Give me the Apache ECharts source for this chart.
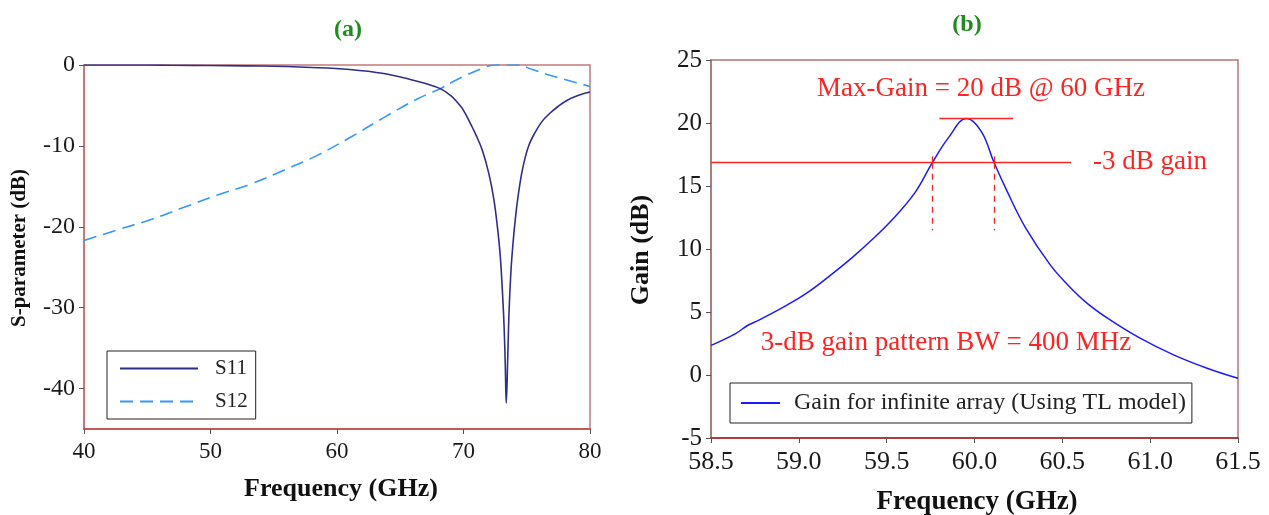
<!DOCTYPE html>
<html>
<head>
<meta charset="utf-8">
<script src="https://cdn.jsdelivr.net/npm/echarts@6/dist/echarts.min.js"></script>
<style>
html,body{margin:0;padding:0;background:#fff;}
#main{width:1269px;height:515px;}
</style>
</head>
<body>
<div id="main"></div>
<script>
// ---------- Data: panel (a) ----------
const s11Freq = [40,45,47,50,54,58,61,63.7,65.8,67,68.2,69,69.5,70,70.6,71,71.5,72.0,72.4,72.7,72.9,73.07,73.2,73.3,73.38,73.5,73.6,73.75,73.9,74.1,74.3,74.6,74.9,75.2,75.6,76.2,76.8,77.5,78.2,79,80];
const s11Val  = [0,0,-0.03,-0.06,-0.12,-0.3,-0.55,-1.05,-1.8,-2.3,-2.95,-3.8,-4.6,-5.6,-7.4,-8.7,-10.6,-13.4,-16.6,-20.3,-23.5,-27.8,-32,-37,-41.8,-36,-30.5,-25.5,-22.3,-19.0,-16.4,-13.4,-11.3,-9.8,-8.5,-7.0,-6.0,-5.1,-4.35,-3.8,-3.35];
const s12Freq = [40,42.6,45.3,47.9,50.5,53.2,55.8,58.4,61.1,63.7,66.35,68.2,69,70.3,71.6,72.4,73.3,74.25,75.5,76.9,78.5,80];
const s12Val  = [-21.7,-20.4,-19.1,-17.6,-16.1,-14.7,-13.0,-11.2,-8.9,-6.5,-4.2,-2.9,-2.2,-1.2,-0.35,0,0,0,-0.6,-1.3,-2.0,-2.65];
const xTicksA = [40,50,60,70,80];
const yTicksA = [-40,-30,-20,-10,0];

// ---------- Data: panel (b) ----------
const gainFreq = [58.5,58.64,58.71,58.77,58.93,59.04,59.19,59.305,59.41,59.53,59.66,59.76,59.85,59.955,60.04,60.11,60.19,60.29,60.43,60.53,60.64,60.77,60.94,61.13,61.32,61.5];
const gainVal  = [2.35,3.29,3.95,4.34,5.53,6.45,8.03,9.34,10.65,12.3,14.45,16.85,18.8,20.35,19.3,16.9,14.45,11.7,8.76,7.17,5.71,4.39,2.94,1.62,0.56,-0.26];
const xTicksB = [58.5,59.0,59.5,60.0,60.5,61.0,61.5];
const yTicksB = [-5,0,5,10,15,20,25];
const peakLine = [59.8, 60.22, 20.35];       // from, to, level
const halfPowerLine = [58.5, 60.55, 16.85];  // from, to, level
const bwEdges = [59.76, 60.112];
const bwRange = [11.48, 16.85, 17.35];       // dashed bottom, line level, tick top

const seriesNames = ['S11','S12','Gain for infinite array (Using TL model)'];
const labels = {
  a: '(a)', b: '(b)',
  xA: 'Frequency (GHz)', yA: 'S-parameter (dB)',
  xB: 'Frequency (GHz)', yB: 'Gain (dB)',
  maxGain: 'Max-Gain = 20 dB @ 60 GHz',
  minus3: '-3 dB gain',
  bw: '3-dB gain pattern BW = 400 MHz'
};

const pairs = (xs, ys) => xs.map((x, i) => [x, ys[i]]);
const SERIF = '"Liberation Serif","Times New Roman",serif';
const RED = '#ff2424';
const GREEN = '#1f8c1f';

const chart = echarts.init(document.getElementById('main'), null, {renderer: 'canvas'});

const mlData = [
  [{coord:[peakLine[0], peakLine[2]]}, {coord:[peakLine[1], peakLine[2]]}],
  [{coord:[halfPowerLine[0], halfPowerLine[2]]}, {coord:[halfPowerLine[1], halfPowerLine[2]]}]
];
bwEdges.forEach(f => {
  mlData.push([{coord:[f, bwRange[2]]}, {coord:[f, bwRange[1]]}]);
  mlData.push([{coord:[f, bwRange[1]], lineStyle:{type:[6,5]}}, {coord:[f, bwRange[0]]}]);
});

const axisLabelStyle = (size) => ({fontFamily: SERIF, fontSize: size, color: '#1a1a1a'});

chart.setOption({
  animation: false,
  backgroundColor: '#fff',
  grid: [
    {left: 84, right: 679, top: 65, bottom: 86, show: true, borderColor: '#c47a7a', borderWidth: 1.5},
    {left: 711, right: 31, top: 60, bottom: 77, show: true, borderColor: '#b87676', borderWidth: 1.5}
  ],
  xAxis: [
    {type: 'value', gridIndex: 0, min: 40, max: 80, interval: 10,
     axisLine: {show: true, onZero: false, lineStyle: {color: '#c04444', width: 1.5}},
     axisTick: {show: true, inside: false, length: 5, customValues: xTicksA, lineStyle: {color: '#555'}},
     axisLabel: Object.assign({margin: 11, customValues: xTicksA}, axisLabelStyle(23)),
     splitLine: {show: false}},
    {type: 'value', gridIndex: 1, min: 58.5, max: 61.5, interval: 0.5,
     axisLine: {show: true, onZero: false, lineStyle: {color: '#a82020', width: 1.5}},
     axisTick: {show: true, inside: false, length: 5, customValues: xTicksB, lineStyle: {color: '#555'}},
     axisLabel: Object.assign({margin: 11, customValues: xTicksB, formatter: v => Number(v).toFixed(1)}, axisLabelStyle(26)),
     splitLine: {show: false}}
  ],
  yAxis: [
    {type: 'value', gridIndex: 0, min: -45, max: 0,
     axisLine: {show: true, onZero: false, lineStyle: {color: '#c46a6a', width: 1.5}},
     axisTick: {show: true, inside: false, length: 5, customValues: yTicksA, lineStyle: {color: '#555'}},
     axisLabel: Object.assign({margin: 9, customValues: yTicksA}, axisLabelStyle(24)),
     splitLine: {show: false}},
    {type: 'value', gridIndex: 1, min: -5, max: 25, interval: 5,
     axisLine: {show: true, onZero: false, lineStyle: {color: '#b07070', width: 1.5}},
     axisTick: {show: true, inside: false, length: 5, customValues: yTicksB, lineStyle: {color: '#555'}},
     axisLabel: Object.assign({margin: 9, customValues: yTicksB}, axisLabelStyle(25)),
     splitLine: {show: false}}
  ],
  legend: [
    {data: [seriesNames[0], seriesNames[1]], orient: 'vertical', left: 107, top: 351,
     padding: [7, 8, 7, 12], itemGap: 12, itemWidth: 78, itemHeight: 14,
     borderColor: '#222', borderWidth: 1, backgroundColor: '#fff',
     itemStyle: {opacity: 0},
     textStyle: {fontFamily: SERIF, fontSize: 21, color: '#222', padding: [0, 0, 0, 12]},
     selectedMode: false},
    {data: [seriesNames[2]], orient: 'vertical', left: 730, top: 383,
     padding: [8, 6, 8, 10], itemWidth: 39, itemHeight: 24,
     borderColor: '#222', borderWidth: 1, backgroundColor: '#fff',
     itemStyle: {opacity: 0},
     textStyle: {fontFamily: SERIF, fontSize: 24, color: '#222', padding: [0, 0, 0, 9]},
     selectedMode: false}
  ],
  series: [
    {name: seriesNames[0], type: 'line', xAxisIndex: 0, yAxisIndex: 0,
     data: pairs(s11Freq, s11Val), symbol: 'none', smooth: 0.4,
     lineStyle: {color: '#2e2e8c', width: 1.6}, itemStyle: {color: '#2e2e8c'}, z: 3},
    {name: seriesNames[1], type: 'line', xAxisIndex: 0, yAxisIndex: 0,
     data: pairs(s12Freq, s12Val), symbol: 'none', smooth: 0.4,
     lineStyle: {color: '#3399ff', width: 1.6, type: [13, 7]}, itemStyle: {color: '#3399ff'}, z: 2},
    {name: seriesNames[2], type: 'line', xAxisIndex: 1, yAxisIndex: 1,
     data: pairs(gainFreq, gainVal), symbol: 'none', smooth: 0.4,
     lineStyle: {color: '#1a1aff', width: 1.5}, itemStyle: {color: '#1a1aff'}, z: 3,
     markLine: {silent: true, symbol: 'none', animation: false, label: {show: false},
       lineStyle: {color: RED, width: 1.3, type: 'solid'}, emphasis: {disabled: true},
       data: mlData}}
  ],
  graphic: [
    {type: 'text', x: 348, y: 30, style: {text: labels.a, font: 'bold 24px ' + SERIF, fill: GREEN, align: 'center', verticalAlign: 'middle'}},
    {type: 'text', x: 967, y: 25, style: {text: labels.b, font: 'bold 24px ' + SERIF, fill: GREEN, align: 'center', verticalAlign: 'middle'}},
    {type: 'text', x: 341, y: 489, style: {text: labels.xA, font: 'bold 26px ' + SERIF, fill: '#111', align: 'center', verticalAlign: 'middle'}},
    {type: 'text', x: 20, y: 248, rotation: Math.PI / 2, style: {text: labels.yA, font: 'bold 21px ' + SERIF, fill: '#111', align: 'center', verticalAlign: 'middle'}},
    {type: 'text', x: 977, y: 502, style: {text: labels.xB, font: 'bold 27px ' + SERIF, fill: '#111', align: 'center', verticalAlign: 'middle'}},
    {type: 'text', x: 641, y: 250, rotation: Math.PI / 2, style: {text: labels.yB, font: 'bold 26px ' + SERIF, fill: '#111', align: 'center', verticalAlign: 'middle'}},
    {type: 'text', x: 981, y: 89, style: {text: labels.maxGain, font: '27px ' + SERIF, fill: RED, align: 'center', verticalAlign: 'middle'}},
    {type: 'text', x: 1150, y: 162, style: {text: labels.minus3, font: '27px ' + SERIF, fill: RED, align: 'center', verticalAlign: 'middle'}},
    {type: 'text', x: 946, y: 343, style: {text: labels.bw, font: '27px ' + SERIF, fill: RED, align: 'center', verticalAlign: 'middle'}}
  ]
});
</script>
</body>
</html>
